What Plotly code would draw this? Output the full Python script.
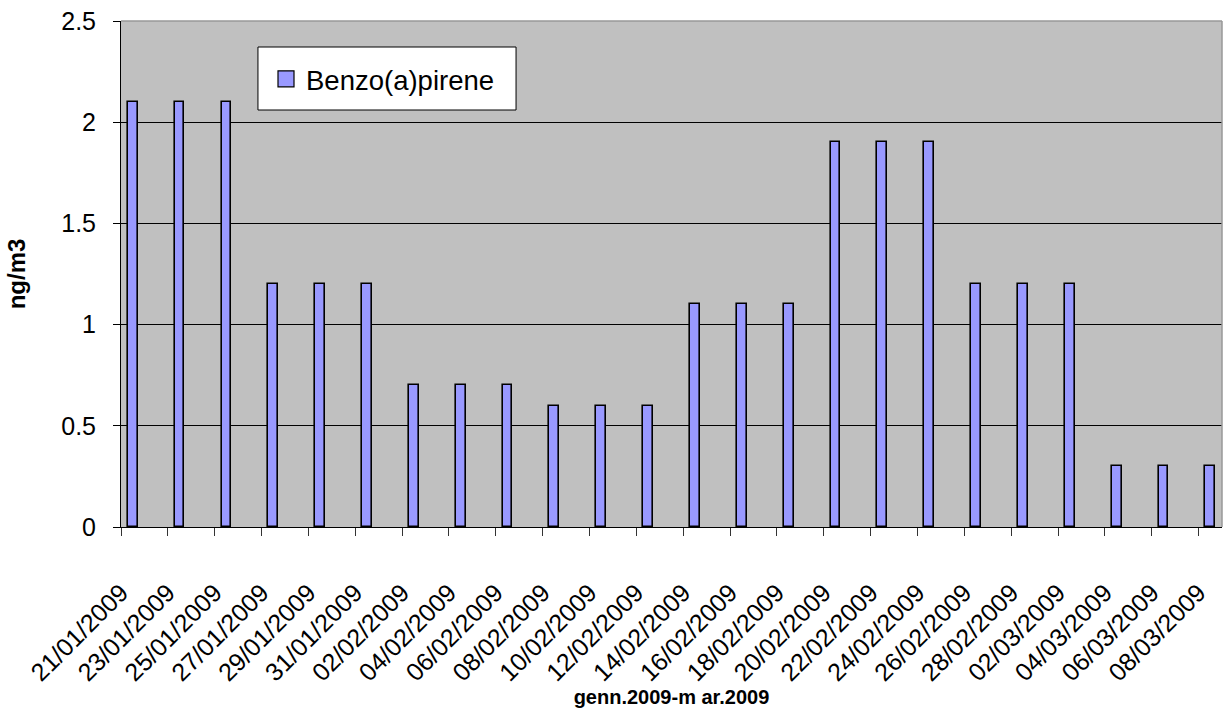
import pandas as pd
import plotly.graph_objects as go

# Sampling dates (every second day) and Benzo(a)pirene concentrations in ng/m3
dates = [
    "2009-01-21", "2009-01-23", "2009-01-25", "2009-01-27", "2009-01-29", "2009-01-31",
    "2009-02-02", "2009-02-04", "2009-02-06", "2009-02-08", "2009-02-10", "2009-02-12",
    "2009-02-14", "2009-02-16", "2009-02-18", "2009-02-20", "2009-02-22", "2009-02-24",
    "2009-02-26", "2009-02-28", "2009-03-02", "2009-03-04", "2009-03-06", "2009-03-08",
]
bap_values = [
    2.1, 2.1, 2.1, 1.2, 1.2, 1.2,
    0.7, 0.7, 0.7, 0.6, 0.6, 0.6,
    1.1, 1.1, 1.1, 1.9, 1.9, 1.9,
    1.2, 1.2, 1.2, 0.3, 0.3, 0.3,
]
series_name = "Benzo(a)pirene"
x_title = "genn.2009-m ar.2009"
y_title = "ng/m3"

date_index = pd.to_datetime(dates)
tick_text = [d.strftime("%d/%m/%Y") for d in date_index]

DAY_MS = 86400000
BAR_FILL = "#9999FF"
FONT = "Liberation Sans, Arial, sans-serif"

fig = go.Figure()

fig.add_trace(go.Bar(
    x=dates,
    y=bap_values,
    xperiod=DAY_MS,
    xperiodalignment="middle",
    width=0.42 * DAY_MS,
    marker=dict(color=BAR_FILL, line=dict(color="black", width=1.6)),
    name=series_name,
    showlegend=False,
))

# Legend entry with a larger square swatch
fig.add_trace(go.Scatter(
    x=[None], y=[None],
    mode="markers",
    marker=dict(symbol="square", size=16, color=BAR_FILL,
                line=dict(color="black", width=1.2)),
    name=series_name,
    showlegend=True,
))

fig.update_layout(
    width=1223,
    height=720,
    margin=dict(l=121, r=1, t=21, b=193),
    paper_bgcolor="white",
    plot_bgcolor="#C0C0C0",
    font=dict(family=FONT, color="black", size=25),
    showlegend=True,
    legend=dict(
        x=0.1317, y=0.8854, xanchor="left", yanchor="middle",
        bgcolor="rgba(0,0,0,0)", borderwidth=0,
        font=dict(size=27.5),
        itemsizing="trace",
    ),
    bargap=0,
)

fig.update_xaxes(
    type="date",
    range=["2009-01-21", "2009-03-09"],
    tickmode="array",
    tickvals=dates,
    ticktext=tick_text,
    tickangle=-45,
    ticks="outside",
    ticklen=8,
    tickcolor="#333333",
    tickfont=dict(size=25),
    ticklabelstandoff=32,
    showgrid=False,
    showline=True,
    linecolor="black",
    linewidth=1,
    zeroline=False,
    title=dict(text="<b>" + x_title + "</b>", font=dict(size=20, family=FONT), standoff=3),
)

fig.update_yaxes(
    range=[0, 2.5],
    tick0=0,
    dtick=0.5,
    ticks="outside",
    ticklen=7,
    tickcolor="black",
    tickfont=dict(size=25),
    ticklabelstandoff=12,
    showgrid=True,
    gridcolor="black",
    gridwidth=1,
    showline=True,
    linecolor="black",
    linewidth=1,
    zeroline=False,
    title=dict(text="<b>" + y_title + "</b>", font=dict(size=24, family=FONT), standoff=28),
)

# Legend frame
fig.add_shape(type="rect", xref="paper", yref="paper",
              x0=0.1244, x1=0.3588, y0=0.8241, y1=0.9486,
              fillcolor="white", line=dict(color="black", width=1), layer="above")

# Light frame on the top and right of the plotting area
fig.add_shape(type="line", xref="paper", yref="paper", x0=0, x1=1, y0=1, y1=1,
              line=dict(color="#999999", width=1.5))
fig.add_shape(type="line", xref="paper", yref="paper", x0=1, x1=1, y0=0, y1=1,
              line=dict(color="#999999", width=1.5))

fig.write_html("out.html")
